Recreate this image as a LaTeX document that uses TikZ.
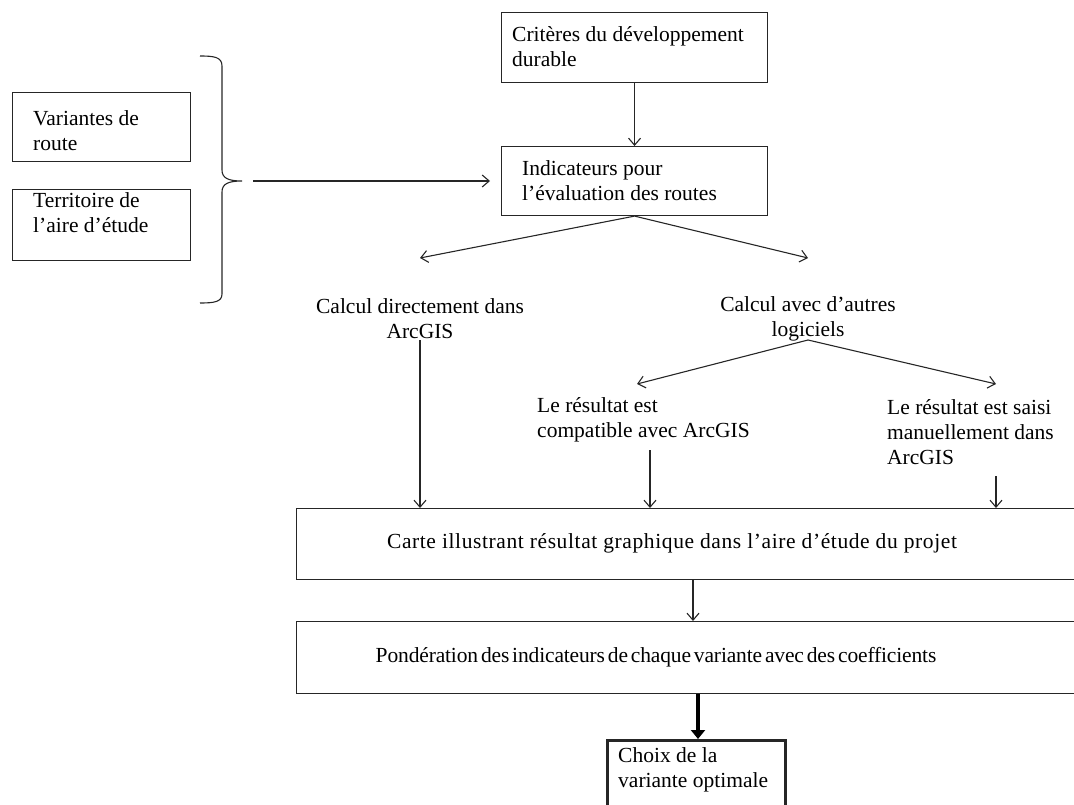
\documentclass[tikz,border=0pt]{standalone}
\usepackage{fontspec}
\setmainfont{Liberation Serif}
\newfontfamily\pondfont{Liberation Serif}[LetterSpace=-0.7,WordSpace=0.55]
\newfontfamily\cartefont{Liberation Serif}[LetterSpace=2.8]
\usetikzlibrary{arrows.meta}
\begin{document}
\begin{tikzpicture}[x=1pt,y=-1pt,
  box/.style={draw=black!85, line width=1.1pt, rectangle, inner sep=0pt, anchor=north west},
  txt/.style={inner sep=0pt, align=left, anchor=west, font=\fontsize{21.5}{25}\selectfont},
  ctxt/.style={inner sep=0pt, align=center, font=\fontsize{21.5}{25}\selectfont},
  arr/.style={draw=black!85, line width=1.1pt, -{Straight Barb[length=7pt,width=12pt]}},
  thickarr/.style={draw=black, line width=4.5pt, -{Triangle[length=9pt,width=14pt]}}]
\useasboundingbox (0,0) rectangle (1074,805);
\clip (0,0) rectangle (1074,805);
% boxes
\node[box, minimum width=266pt, minimum height=70pt] (crit) at (501,12) {};
\node[box, minimum width=266pt, minimum height=69pt] (ind) at (501,146) {};
\node[box, minimum width=178pt, minimum height=69pt] (var) at (12,92) {};
\node[box, minimum width=178pt, minimum height=71pt] (terr) at (12,189) {};
\node[box, minimum width=820pt, minimum height=71pt] (carte) at (296,508) {};
\node[box, minimum width=820pt, minimum height=72pt] (pond) at (296,621) {};
\node[box, line width=3pt, minimum width=178pt, minimum height=100pt] (choix) at (606,739) {};
% texts
\node[txt] (critT) at (512,46.5) {Critères du développement\\durable};
\node[txt] (indT) at (522,180.5) {Indicateurs pour\\l’évaluation des routes};
\node[txt] (varT) at (33,131) {Variantes de\\route};
\node[txt] (terrT) at (33,212.5) {Territoire de\\l’aire d’étude};
\node[ctxt] (calcD) at (420,318.5) {Calcul directement dans\\ArcGIS};
\node[ctxt] (calcA) at (808,318.5) {Calcul avec d’autres\\logiciels};
\node[txt] (res1) at (537,419.5) {Le résultat est\\compatible avec ArcGIS};
\node[txt] (res2) at (887,432) {Le résultat est saisi\\manuellement dans\\ArcGIS};
\node[ctxt, font={\cartefont\fontsize{21.5}{25}\selectfont}] (carteT) at (672,543) {Carte illustrant résultat graphique dans l’aire d’étude du projet};
\node[ctxt, font={\pondfont\fontsize{21.5}{25}\selectfont}] (pondT) at (656,657) {Pondération des indicateurs de chaque variante avec des coefficients};
\node[txt] (choixT) at (618,769.5) {Choix de la\\variante optimale};
% brace
\draw[draw=black!85, line width=1.1pt] (200,56) .. controls (214,56) and (222,57) .. (222,66)
  -- (222,170) .. controls (222,178) and (228,181) .. (242,181)
  .. controls (228,181) and (222,184) .. (222,192)
  -- (222,294) .. controls (222,302) and (214,303) .. (200,303);
% coordinates
\coordinate (brs) at (253,181);
\coordinate (bre) at (490,181);
\coordinate (tD) at (420,258);
\coordinate (tA) at (808,258);
\coordinate (jD) at (420,340);
\coordinate (jA) at (808,340);
\coordinate (t1) at (637,384);
\coordinate (t2) at (996,384);
\coordinate (s1) at (650,450);
\coordinate (s2) at (996,476);
% arrows
\draw[arr] (crit.south) -- (ind.north);
\draw[arr] (brs) -- (bre);
\draw[arr] (ind.south) -- (tD);
\draw[arr] (ind.south) -- (tA);
\draw[arr] (jD) -- (jD |- carte.north);
\draw[arr] (jA) -- (t1);
\draw[arr] (jA) -- (t2);
\draw[arr] (s1) -- (s1 |- carte.north);
\draw[arr] (s2) -- (s2 |- carte.north);
\draw[arr] (carte.south -| 693,0) -- (pond.north -| 693,0);
\draw[thickarr] (pond.south -| 698,0) -- (choix.north -| 698,0);
\end{tikzpicture}
\end{document}
